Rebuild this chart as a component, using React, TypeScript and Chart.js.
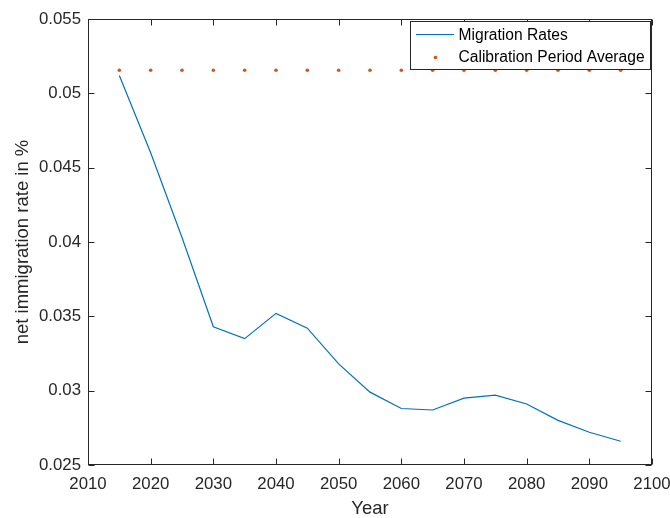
import React, { useEffect, useRef } from "react";
import { Chart, registerables } from "chart.js";

Chart.register(...registerables);

const years = [2015, 2020, 2025, 2030, 2035, 2040, 2045, 2050, 2055, 2060, 2065, 2070, 2075, 2080, 2085, 2090, 2095];
const migrationRates = [0.0512, 0.046, 0.0403, 0.0343, 0.0335, 0.0352, 0.0342, 0.0318, 0.0299, 0.0288, 0.0287, 0.0295, 0.0297, 0.0291, 0.028, 0.0272, 0.0266];
const calibrationAverage = [0.05155, 0.05155, 0.05155, 0.05155, 0.05155, 0.05155, 0.05155, 0.05155, 0.05155, 0.05155, 0.05155, 0.05155, 0.05155, 0.05155, 0.05155, 0.05155, 0.05155];
const xTickRange = { min: 2010, max: 2100, step: 10 };
const yTickRange = { min: 0.025, max: 0.055, step: 0.005 };

const FONT = "'Liberation Sans', Arial, Helvetica, sans-serif";
const AXIS_COLOR = "#262626";

const boxAndTicksPlugin = {
  id: "boxAndTicks",
  afterDatasetsDraw(chart: any) {
    const { ctx, chartArea, scales } = chart;
    const { left, right, top, bottom } = chartArea;
    ctx.save();
    ctx.strokeStyle = AXIS_COLOR;
    ctx.lineWidth = 1;
    const L = Math.round(left) + 0.5;
    const R = Math.round(right) - 0.5;
    const T = Math.round(top) + 0.5;
    const B = Math.round(bottom) - 0.5;
    const tl = 6;
    ctx.beginPath();
    scales.x.ticks.forEach((t: any) => {
      const px = Math.round(scales.x.getPixelForValue(t.value)) + 0.5;
      ctx.moveTo(px, B);
      ctx.lineTo(px, B - tl);
      ctx.moveTo(px, T);
      ctx.lineTo(px, T + tl);
    });
    scales.y.ticks.forEach((t: any) => {
      const py = Math.round(scales.y.getPixelForValue(t.value)) + 0.5;
      ctx.moveTo(L, py);
      ctx.lineTo(L + tl, py);
      ctx.moveTo(R, py);
      ctx.lineTo(R - tl, py);
    });
    ctx.stroke();
    ctx.strokeRect(L, T, R - L, B - T);
    ctx.restore();
  },
};

const boxedLegendPlugin = {
  id: "boxedLegend",
  afterDraw(chart: any) {
    const { ctx, chartArea } = chart;
    const ds = chart.data.datasets;
    const boxRight = Math.round(chartArea.right) - 1.5;
    const boxLeft = 410.5;
    const boxTop = Math.round(chartArea.top) + 2.5;
    const boxBottom = 69.5;
    ctx.save();
    ctx.fillStyle = "#ffffff";
    ctx.fillRect(boxLeft, boxTop, boxRight - boxLeft, boxBottom - boxTop);
    ctx.strokeStyle = AXIS_COLOR;
    ctx.lineWidth = 1;
    ctx.strokeRect(boxLeft, boxTop, boxRight - boxLeft, boxBottom - boxTop);
    ctx.font = `15.6px ${FONT}`;
    ctx.fillStyle = "#000000";
    ctx.textBaseline = "middle";
    ctx.textAlign = "left";
    const rows = [35, 57];
    ds.forEach((d: any, i: number) => {
      const y = rows[i];
      if (d.showLine === false) {
        ctx.beginPath();
        ctx.fillStyle = d.pointBackgroundColor;
        ctx.arc(435.5, y + 0.5, 1.8, 0, Math.PI * 2);
        ctx.fill();
      } else {
        ctx.beginPath();
        ctx.strokeStyle = d.borderColor;
        ctx.lineWidth = d.borderWidth;
        ctx.moveTo(416, y - 0.5);
        ctx.lineTo(454, y - 0.5);
        ctx.stroke();
      }
      ctx.fillStyle = "#000000";
      ctx.fillText(d.label, 458.5, y + 1);
    });
    ctx.restore();
  },
};

export default function App() {
  const canvasRef = useRef<HTMLCanvasElement | null>(null);

  useEffect(() => {
    const canvas = canvasRef.current;
    if (!canvas) return;
    const chart = new Chart(canvas, {
      type: "line",
      data: {
        datasets: [
          {
            label: "Migration Rates",
            data: years.map((x, i) => ({ x, y: migrationRates[i] })),
            borderColor: "#0072BD",
            backgroundColor: "#0072BD",
            borderWidth: 1.2,
            pointRadius: 0,
            fill: false,
            tension: 0,
          },
          {
            label: "Calibration Period Average",
            data: years.map((x, i) => ({ x, y: calibrationAverage[i] })),
            showLine: false,
            borderColor: "#D95319",
            backgroundColor: "#D95319",
            pointBackgroundColor: "#D95319",
            pointBorderWidth: 0,
            pointRadius: 1.8,
          },
        ],
      },
      options: {
        responsive: false,
        animation: false,
        layout: { padding: { top: 19, right: 18, left: 0, bottom: 0 } },
        plugins: { legend: { display: false }, tooltip: { enabled: false } },
        scales: {
          x: {
            type: "linear",
            min: xTickRange.min,
            max: xTickRange.max,
            grid: { display: false, drawTicks: false },
            border: { display: false },
            ticks: {
              stepSize: xTickRange.step,
              color: AXIS_COLOR,
              padding: 9,
              maxRotation: 0,
              autoSkip: false,
              font: { family: FONT, size: 16.8 },
              callback: (v: any) => String(v),
            },
            title: {
              display: true,
              text: "Year",
              color: AXIS_COLOR,
              font: { family: FONT, size: 18.5 },
              padding: { top: 0, bottom: -2 },
            },
            afterFit: (s: any) => {
              s.height = 53;
              s.paddingLeft = 0;
              s.paddingRight = 0;
            },
          },
          y: {
            type: "linear",
            min: yTickRange.min,
            max: yTickRange.max,
            grid: { display: false, drawTicks: false },
            border: { display: false },
            ticks: {
              stepSize: yTickRange.step,
              color: AXIS_COLOR,
              padding: 7,
              autoSkip: false,
              font: { family: FONT, size: 16.8 },
              callback: (v: any) => String(Number(Number(v).toFixed(3))),
            },
            title: {
              display: true,
              text: "net immigration rate in %",
              color: AXIS_COLOR,
              font: { family: FONT, size: 18.5 },
              padding: { top: 12, bottom: 0 },
            },
            afterFit: (s: any) => {
              s.width = 88;
              s.paddingTop = 0;
              s.paddingBottom = 0;
            },
          },
        },
      },
      plugins: [boxAndTicksPlugin, boxedLegendPlugin],
    } as any);
    return () => chart.destroy();
  }, []);

  return (
    <div style={{ position: "fixed", left: 0, top: 0, width: 670, height: 518, background: "#fff" }}>
      <canvas ref={canvasRef} width={670} height={518} style={{ display: "block" }} />
    </div>
  );
}
